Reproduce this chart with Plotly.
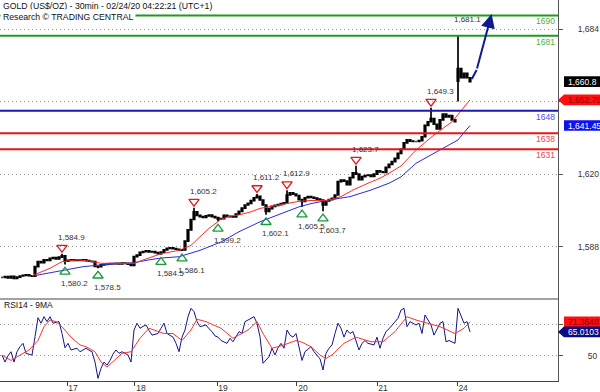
import plotly.graph_objects as go

# ---------------- data ----------------
closes = [
    1574.5, 1574.8, 1574.3, 1574.9, 1574.0, 1574.6, 1575.1, 1575.4, 1575.6, 1575.2,
    1575.0, 1579.2, 1581.4, 1581.0, 1582.2, 1582.0, 1582.9, 1583.2, 1582.6, 1583.4,
    1584.0, 1581.6, 1582.0, 1582.2, 1582.0, 1582.1, 1582.0, 1582.2, 1581.9, 1581.6,
    1581.4, 1579.3, 1579.2, 1580.0, 1580.2, 1580.4, 1580.6, 1580.5, 1580.7, 1580.4,
    1580.8, 1580.6, 1580.3, 1579.8, 1583.6, 1584.3, 1585.5, 1585.8, 1586.2, 1585.7,
    1585.8, 1585.4, 1585.0, 1585.6, 1586.6, 1587.3, 1587.5, 1587.2, 1586.9, 1586.5,
    1586.6, 1590.5, 1595.4, 1600.0, 1603.4, 1601.8, 1601.3, 1600.9, 1601.6, 1602.0,
    1601.3, 1600.8, 1600.3, 1600.4, 1601.8, 1601.4, 1601.3, 1601.2, 1602.4, 1603.6,
    1605.0, 1606.4, 1607.1, 1608.3, 1609.6, 1610.2, 1608.6, 1606.4, 1603.6, 1604.8,
    1605.8, 1606.2, 1606.6, 1607.0, 1607.4, 1610.8, 1611.8, 1611.2, 1610.5, 1608.8,
    1608.0, 1609.6, 1610.1, 1609.8, 1609.4, 1609.0, 1608.6, 1606.4, 1608.2, 1608.8,
    1609.3, 1610.8, 1616.7, 1617.4, 1616.9, 1615.4, 1618.5, 1620.6, 1620.0, 1617.6,
    1618.9, 1619.4, 1619.6, 1619.0, 1620.0, 1621.5, 1621.0, 1620.8, 1623.0, 1624.3,
    1625.5, 1627.0, 1629.2, 1631.0, 1633.8, 1635.1, 1634.6, 1634.4, 1634.4, 1634.8,
    1636.5, 1641.5, 1643.1, 1644.5, 1642.0, 1640.0, 1643.9, 1646.5, 1645.3, 1645.8,
    1643.9, 1643.1, 1666.5, 1662.5, 1664.5, 1662.5, 1660.8,
]
# Monday gap bar: its own open and low
gap_bar = 152
gap_open = 1661.0
gap_low = 1652.0

pivot_high_idx = [20, 64, 85, 95, 118, 143, 152]
pivot_high_val = [1584.9, 1605.2, 1611.2, 1612.9, 1623.7, 1649.3, 1681.1]
pivot_high_mark = [True, True, True, True, True, True, False]
pivot_low_idx = [21, 32, 53, 60, 72, 88, 100, 107]
pivot_low_val = [1580.2, 1578.5, 1584.5, 1586.1, 1599.2, 1602.1, 1605.5, 1603.7]

ma_fast_idx = [10, 16, 20, 25, 29, 33, 38, 44, 48, 53, 59, 63, 66, 69, 73, 76, 79, 83, 86,
               89, 93, 96, 99, 103, 108, 113, 117, 122, 126, 129, 133, 138, 144, 150, 156]
ma_fast_val = [1575.2, 1578.5, 1581.4, 1582.2, 1581.7, 1580.7, 1580.7, 1580.7, 1582.6, 1584.9,
               1586.4, 1588.6, 1592.4, 1596.1, 1600.1, 1601.5, 1602.0, 1603.4, 1604.9, 1605.6,
               1606.4, 1607.3, 1608.0, 1608.4, 1608.3, 1610.1, 1613.0, 1616.0, 1618.2, 1620.4,
               1623.6, 1630.6, 1637.3, 1643.1, 1652.75]
ma_slow_idx = [11, 21, 27, 33, 38, 44, 49, 53, 59, 66, 73, 79, 86, 93, 99, 103, 109, 116,
               123, 129, 133, 138, 144, 150, 152, 156]
ma_slow_val = [1575.3, 1577.7, 1579.2, 1580.0, 1580.5, 1581.0, 1582.2, 1583.0, 1583.6, 1586.4,
               1590.1, 1594.6, 1599.0, 1602.7, 1605.6, 1607.0, 1608.6, 1610.1, 1613.0, 1616.0,
               1618.8, 1624.8, 1629.2, 1633.6, 1635.1, 1641.45]

levels = [1690, 1681, 1648, 1638, 1631]
level_kind = ["res", "res", "pivot", "sup", "sup"]

forecast_idx = [156.6, 158.2, 163.2]
forecast_val = [1662.0, 1665.9, 1690.6]

rsi = [
    50.4, 46.0, 50.0, 52.5, 46.0, 52.5, 55.7, 57.8, 51.5, 51.0,
    50.4, 62.0, 74.0, 70.5, 74.6, 71.5, 74.6, 70.5, 71.0, 71.5,
    64.0, 55.0, 57.8, 53.6, 54.2, 54.7, 52.5, 53.5, 54.7, 53.5,
    52.5, 46.0, 35.7, 42.0, 46.0, 44.0, 47.0, 51.0, 53.6, 51.5,
    52.5, 51.5, 50.4, 46.0, 66.2, 70.5, 67.3, 68.5, 69.4, 66.0,
    63.0, 63.5, 64.0, 67.3, 70.5, 64.0, 63.0, 61.7, 57.8, 52.5,
    61.7, 66.2, 74.6, 79.9, 77.8, 71.5, 68.3, 69.0, 69.4, 67.0,
    65.2, 62.5, 61.7, 59.6, 58.5, 57.8, 61.0, 58.8, 62.0, 65.2,
    64.0, 71.5, 72.5, 73.6, 74.6, 70.5, 62.0, 45.2, 47.0, 49.3,
    54.7, 50.4, 55.0, 57.8, 54.7, 66.2, 63.0, 61.7, 64.0, 54.7,
    47.0, 52.5, 54.0, 55.7, 52.5, 50.4, 48.0, 41.0, 51.5, 54.7,
    56.8, 64.0, 70.5, 67.3, 61.7, 66.2, 64.0, 65.2, 59.6, 53.6,
    57.8, 59.6, 57.8, 57.3, 56.8, 61.7, 54.7, 61.0, 65.2, 67.0,
    69.4, 71.5, 73.6, 78.8, 79.9, 68.3, 71.5, 70.5, 69.4, 70.5,
    64.0, 75.7, 72.5, 69.4, 63.0, 67.3, 70.5, 71.5, 58.8, 59.6,
    58.5, 57.8, 79.9, 74.6, 70.5, 71.5, 65.0103,
]
rsi_ma_idx = [0, 3, 6, 9, 12, 14, 16, 18, 20, 23, 26, 28, 31, 33, 35, 38, 40, 43, 46, 49,
              54, 57, 60, 63, 65, 68, 73, 77, 82, 85, 87, 90, 94, 98, 100, 103, 106, 108,
              110, 114, 118, 123, 127, 131, 135, 138, 142, 146, 151, 154, 156]
rsi_ma_val = [50.4, 47.0, 50.4, 53.6, 59.6, 68.3, 72.5, 71.5, 68.3, 61.7, 56.8, 55.7, 52.5,
              46.0, 42.8, 48.3, 51.5, 52.5, 61.0, 67.3, 64.0, 64.0, 59.6, 66.2, 73.0, 71.5,
              67.3, 61.0, 66.2, 71.5, 64.0, 54.7, 56.8, 59.6, 58.5, 55.7, 50.4, 48.3, 50.4,
              57.8, 61.7, 58.8, 58.8, 65.2, 74.6, 72.5, 70.5, 68.3, 64.0, 67.3, 71.3648]

day_pos = [21.7, 44.3, 71.7, 98.3, 125.0, 151.7]
day_labels = ["17", "18", "19", "20", "21", "24"]
price_ticks = [1588, 1620, 1652, 1684]
price_tick_shown = [True, True, False, True]   # 1,652 sits under the MA tag
rsi_ticks = [50, 70]
rsi_tick_shown = [True, False]                 # 70 sits under the RSI tags

title_1 = "GOLD (US$/OZ) - 30min - 02/24/20 04:22:21 (UTC+1)"
title_2 = "Research \u00a9 TRADING CENTRAL"
rsi_title = "RSI14 - 9MA"

# ---------------- derived OHLC ----------------
idx = list(range(len(closes)))
opens = [closes[0]] + closes[:-1]
opens[gap_bar] = gap_open
highs = [max(o, c) for o, c in zip(opens, closes)]
lows = [min(o, c) for o, c in zip(opens, closes)]
lows[gap_bar] = gap_low
for i, v in zip(pivot_high_idx, pivot_high_val):
    highs[i] = v
for i, v in zip(pivot_low_idx, pivot_low_val):
    lows[i] = v

# ---------------- styles ----------------
FONT = "Liberation Sans, Arial, sans-serif"
TXT = "#333333"
GREEN = "#1f9a1f"
BLUE_LVL = "#1a1ab4"
RED = "#e8141a"
LEVEL_COL = {"res": GREEN, "pivot": BLUE_LVL, "sup": RED}
LEVEL_TXT = {"res": "#4fae4f", "pivot": "#4b4bf0", "sup": "#e84848"}
MA_FAST_COL = "#ff2a2a"
MA_SLOW_COL = "#2b2bd8"
RSI_COL = "#14148c"
RSI_MA_COL = "#ff3030"
ARROW_COL = "#0e1a8e"

PLOT_W = 558.0
MAIN_BOTTOM = 0.2152
TRI_UP_GAP = 2.7    # price units between high and marker
TRI_DN_GAP = 3.3

fig = go.Figure()

fig.add_trace(go.Scatter(x=ma_slow_idx, y=ma_slow_val, mode="lines",
                         line=dict(color=MA_SLOW_COL, width=1), hoverinfo="skip"))
fig.add_trace(go.Scatter(x=ma_fast_idx, y=ma_fast_val, mode="lines",
                         line=dict(color=MA_FAST_COL, width=1), hoverinfo="skip"))

fig.add_trace(go.Candlestick(
    x=idx, open=opens, high=highs, low=lows, close=closes,
    increasing=dict(line=dict(color="black", width=1.7), fillcolor="black"),
    decreasing=dict(line=dict(color="black", width=1.7), fillcolor="black"),
    whiskerwidth=0, hoverinfo="skip"))

# pivot markers
hx = [i for i, m in zip(pivot_high_idx, pivot_high_mark) if m]
hy = [v + TRI_UP_GAP for v, m in zip(pivot_high_val, pivot_high_mark) if m]
fig.add_trace(go.Scatter(x=hx, y=hy, mode="markers",
                         marker=dict(symbol="triangle-down-open", size=9, color=RED,
                                     line=dict(width=1.3, color=RED)), hoverinfo="skip"))
fig.add_trace(go.Scatter(x=pivot_low_idx, y=[v - TRI_DN_GAP for v in pivot_low_val], mode="markers",
                         marker=dict(symbol="triangle-up-open", size=9, color="#1a9a3a",
                                     line=dict(width=1.3, color="#1a9a3a")), hoverinfo="skip"))

# forecast arrow (bent segment + arrow head)
fig.add_trace(go.Scatter(x=forecast_idx[:2], y=forecast_val[:2], mode="lines",
                         line=dict(color=ARROW_COL, width=2), hoverinfo="skip"))

# RSI panel
fig.add_trace(go.Scatter(x=idx, y=rsi, mode="lines", line=dict(color=RSI_COL, width=1),
                         xaxis="x", yaxis="y2", hoverinfo="skip"))
fig.add_trace(go.Scatter(x=rsi_ma_idx, y=rsi_ma_val, mode="lines",
                         line=dict(color=RSI_MA_COL, width=1), xaxis="x", yaxis="y2",
                         hoverinfo="skip"))

shapes = []
annotations = []

for lv, kind in zip(levels, level_kind):
    shapes.append(dict(type="line", xref="paper", x0=0, x1=1, yref="y", y0=lv, y1=lv,
                       line=dict(color=LEVEL_COL[kind], width=2), layer="above"))
    annotations.append(dict(xref="paper", x=557 / PLOT_W, xanchor="right", yref="y", y=lv,
                            yshift=-6, text=str(lv), showarrow=False,
                            font=dict(family=FONT, size=8.5, color=LEVEL_TXT[kind])))

# panel separator
shapes.append(dict(type="line", xref="paper", x0=0, x1=1, yref="paper", y0=MAIN_BOTTOM,
                   y1=MAIN_BOTTOM, line=dict(color="#444444", width=1)))

for i, v in zip(pivot_high_idx, pivot_high_val):
    annotations.append(dict(x=i, y=v, xref="x", yref="y", text=f"{v:,.1f}", showarrow=False,
                            xshift=9, yshift=16.5, font=dict(family=FONT, size=8, color=TXT)))
for i, v in zip(pivot_low_idx, pivot_low_val):
    annotations.append(dict(x=i, y=v, xref="x", yref="y", text=f"{v:,.1f}", showarrow=False,
                            xshift=9, yshift=-19, font=dict(family=FONT, size=8, color=TXT)))

annotations.append(dict(x=forecast_idx[2], y=forecast_val[2], ax=forecast_idx[1],
                        ay=forecast_val[1], xref="x", yref="y", axref="x", ayref="y",
                        showarrow=True, arrowhead=2, arrowsize=1.4, arrowwidth=2,
                        arrowcolor=ARROW_COL, text=""))

# titles
annotations.append(dict(xref="paper", yref="paper", x=0, y=(381 - 6) / 381.0,
                        xanchor="left", yanchor="middle", text=title_1, showarrow=False,
                        bgcolor="white", borderpad=2,
                        font=dict(family=FONT, size=8.7, color="#111111")))
annotations.append(dict(xref="paper", yref="paper", x=0, y=(381 - 16.5) / 381.0,
                        xanchor="left", yanchor="middle", text=title_2, showarrow=False,
                        bgcolor="white", borderpad=2,
                        font=dict(family=FONT, size=8.7, color="#111111")))
annotations.append(dict(xref="paper", yref="paper", x=2 / PLOT_W, y=(381 - 305) / 381.0,
                        xanchor="left", yanchor="middle", text=rsi_title, showarrow=False,
                        font=dict(family=FONT, size=8.5, color="#111111")))


def tag(value, yref, text, bg, fg, pointer):
    if pointer:
        path = "M0,0 L6,5.3 L60,5.3 L60,-5.3 L6,-5.3 Z"
    else:
        path = "M6,5.3 L60,5.3 L60,-5.3 L6,-5.3 Z"
    shapes.append(dict(type="path", xref="paper", yref=yref, xsizemode="pixel",
                       ysizemode="pixel", xanchor=1.0, yanchor=value, path=path,
                       fillcolor=bg, line=dict(width=0), layer="above"))
    annotations.append(dict(xref="paper", yref=yref, x=567 / PLOT_W, y=value,
                            xanchor="left", yanchor="middle", text=text, showarrow=False,
                            borderpad=0, font=dict(family=FONT, size=8.5, color=fg)))


tag(closes[-1], "y", f"{closes[-1]:,.1f}", "#000000", "#ffffff", False)
tag(ma_fast_val[-1], "y", f"{ma_fast_val[-1]:,.2f}", "#ff1010", "#8a0000", True)
tag(ma_slow_val[-1], "y", f"{ma_slow_val[-1]:,.2f}", "#1010f0", "#ffffff", False)
tag(rsi_ma_val[-1], "y2", f"{rsi_ma_val[-1]:.4f}", "#ff1010", "#8a0000", False)
tag(rsi[-1], "y2", f"{rsi[-1]:.4f}", "#0a0a82", "#ffffff", True)

axis_common = dict(showgrid=True, gridcolor="#9a9a9a", griddash="1px,3px", gridwidth=1,
                   zeroline=False, showline=True, linecolor="#555555", linewidth=1,
                   ticks="outside", ticklen=4, tickcolor="#555555", side="right",
                   tickfont=dict(family=FONT, size=8.5, color=TXT), fixedrange=True)

fig.update_layout(
    width=600, height=392, margin=dict(l=0, r=42, t=0, b=11),
    paper_bgcolor="white", plot_bgcolor="white", showlegend=False, hovermode=False,
    xaxis=dict(domain=[0, 1], range=[-0.667, 185.33], anchor="y2", showgrid=False,
               zeroline=False, showline=True, linecolor="#444444", linewidth=1,
               ticks="outside", ticklen=4, tickcolor="#444444",
               tickvals=day_pos, ticktext=day_labels, ticklabelshift=6,
               ticklabelstandoff=-5,
               tickfont=dict(family=FONT, size=8.5, color=TXT),
               rangeslider=dict(visible=False), fixedrange=True),
    yaxis=dict(domain=[MAIN_BOTTOM, 1], range=[1564.95, 1696.79], anchor="x",
               tickvals=price_ticks,
               ticktext=[f"{t:,}" if s else "" for t, s in zip(price_ticks, price_tick_shown)],
               ticklabelstandoff=13, **axis_common),
    yaxis2=dict(domain=[0, MAIN_BOTTOM], range=[34.04, 85.77], anchor="x",
                tickvals=rsi_ticks,
                ticktext=[str(t) if s else "" for t, s in zip(rsi_ticks, rsi_tick_shown)],
                ticklabelstandoff=23, **axis_common),
    shapes=shapes, annotations=annotations,
)

fig.write_html("out.html", config={"displayModeBar": False, "staticPlot": True},
               post_script="document.body.style.margin='0px';")
